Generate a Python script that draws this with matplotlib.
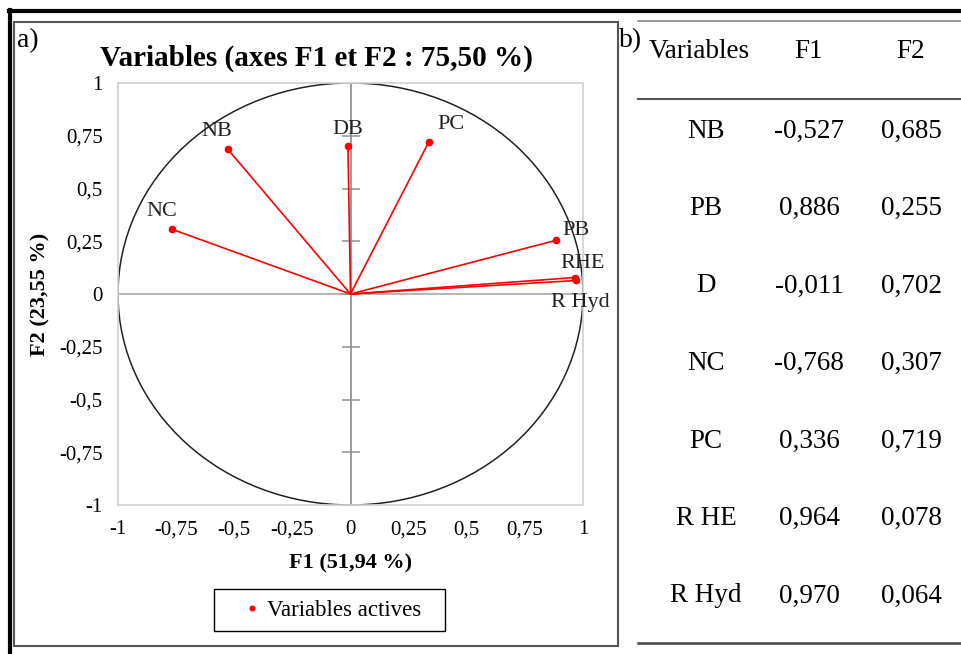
import numpy as np
import matplotlib.pyplot as plt
from matplotlib.patches import Circle, Rectangle
from matplotlib.lines import Line2D

plt.rcParams['font.family'] = ['Liberation Serif', 'DejaVu Serif']

# loadings of the variables on F1 and F2
variables = ['NB', 'PB', 'D', 'NC', 'PC', 'R HE', 'R Hyd']
chart_labels = ['NB', 'PB', 'DB', 'NC', 'PC', 'RHE', 'R Hyd']
f1 = [-0.527, 0.886, -0.011, -0.768, 0.336, 0.964, 0.970]
f2 = [0.685, 0.255, 0.702, 0.307, 0.719, 0.078, 0.064]

ticks = [-1, -0.75, -0.5, -0.25, 0, 0.25, 0.5, 0.75, 1]
tick_labels = ['-1', '-0,75', '-0,5', '-0,25', '0', '0,25', '0,5', '0,75', '1']

# label offsets (points) around each point
label_offsets = [(-8, 13), (14, 7), (0, 12), (-7, 13), (16, 13), (6, 10), (3, -16)]


def fmt(v):
    return f'{v:.3f}'.replace('.', ',')


W, H = 961, 654
fig = plt.figure(figsize=(W / 100, H / 100), dpi=100)


def fx(px):
    return px / W


def fy(py):
    return 1 - py / H


# outer frame and panel a box
fig.add_artist(Line2D([fx(9), 1], [fy(11), fy(11)], color='black', lw=3))
fig.add_artist(Line2D([fx(10), fx(10)], [fy(10), 0], color='black', lw=3))
fig.add_artist(Rectangle((fx(14), fy(646)), fx(618) - fx(14), fy(22) - fy(646),
                         fill=False, edgecolor='#555555', lw=1.5))

fig.text(fx(17), fy(41), 'a)', fontsize=20, va='center', ha='left')
fig.text(fx(619), fy(41), 'b)', fontsize=20, va='center', ha='left')

# correlation circle
ax = fig.add_axes([fx(118), fy(505), fx(583) - fx(118), fy(83) - fy(505)])
ax.set_xlim(-1, 1)
ax.set_ylim(-1, 1)
for s in ax.spines.values():
    s.set_color('#d0d0d0')
    s.set_linewidth(1.2)

ax.add_patch(Circle((0, 0), 1, fill=False, edgecolor='#222222', lw=1.1))
ax.axhline(0, color='#a0a0a0', lw=1.1, zorder=1)
ax.axvline(0, color='#808080', lw=1.1, zorder=1)
ax.plot(np.zeros(len(ticks)), ticks, linestyle='none', marker='_', ms=13,
        mew=1.1, color='#909090', zorder=1)

for x, y in zip(f1, f2):
    ax.plot([0, x], [0, y], color='red', lw=1.2, zorder=2)
ax.plot(f1, f2, linestyle='none', marker='o', ms=4.5, color='red', zorder=3,
        label='Variables actives')
for x, y, lab, off in zip(f1, f2, chart_labels, label_offsets):
    ax.annotate(lab, (x, y), xytext=off, textcoords='offset points',
                ha='center', va='center', fontsize=16, color='#222222')

ax.set_xticks(ticks)
ax.set_xticklabels(tick_labels)
ax.set_yticks(ticks)
ax.set_yticklabels(tick_labels)
ax.tick_params(length=0, labelsize=15, pad=11)
ax.set_xlabel('F1 (51,94 %)', fontsize=16, fontweight='bold', labelpad=10)
ax.set_ylabel('F2 (23,55 %)', fontsize=16, fontweight='bold', labelpad=6)
fig.text(fx(316), fy(58), 'Variables (axes F1 et F2 : 75,50 %)', fontsize=21,
         fontweight='bold', ha='center', va='center')

# legend box drawn by hand, entries from the plotted series
fig.add_artist(Rectangle((fx(214), fy(631)), fx(445) - fx(214), fy(589) - fy(631),
                         fill=False, edgecolor='black', lw=1.0))
ax.legend(loc='center left', bbox_to_anchor=(fx(233), fy(610)),
          bbox_transform=fig.transFigure, fontsize=16.5, frameon=False,
          handlelength=0.7, handletextpad=0.3, borderpad=0, markerscale=0.75)

# table b
fig.add_artist(Line2D([fx(638), 1], [fy(21), fy(21)], color='#888888', lw=1.2))
fig.add_artist(Line2D([fx(638), 1], [fy(99), fy(99)], color='#555555', lw=1.5))
fig.add_artist(Line2D([fx(638), 1], [fy(643), fy(643)], color='#444444', lw=1.8))

col_x = [fx(699), fx(809), fx(911)]
fig.text(col_x[0], fy(52), 'Variables', fontsize=19.5, ha='center', va='center')
fig.text(col_x[1], fy(52), 'F1', fontsize=19.5, ha='center', va='center')
fig.text(col_x[2], fy(52), 'F2', fontsize=19.5, ha='center', va='center')
row_y = np.linspace(131, 596, len(variables))
for i, name in enumerate(variables):
    yy = fy(row_y[i])
    fig.text(fx(706), yy, name, fontsize=19.5, ha='center', va='center')
    fig.text(col_x[1], yy, fmt(f1[i]), fontsize=19.5, ha='center', va='center')
    fig.text(col_x[2], yy, fmt(f2[i]), fontsize=19.5, ha='center', va='center')

fig.savefig('out.png', dpi=100)
